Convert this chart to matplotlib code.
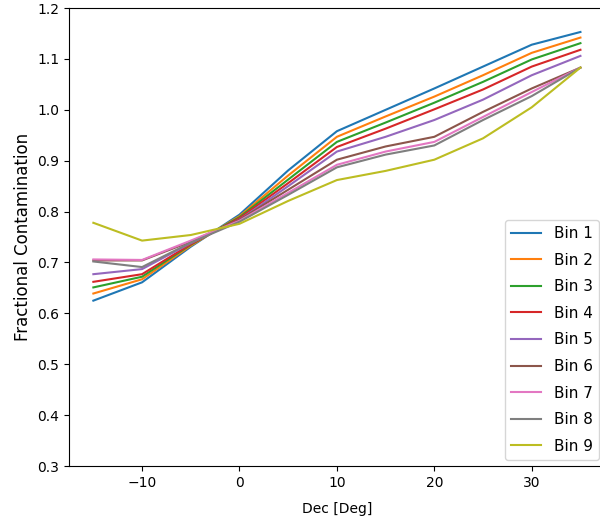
import matplotlib
matplotlib.use('Agg')
import matplotlib.pyplot as plt

dec = [-15, -10, -5, 0, 5, 10, 15, 20, 25, 30, 35]

bins = {
    'Bin 1': [0.625, 0.661, 0.731, 0.794, 0.881, 0.958, 1.000, 1.042, 1.085, 1.128, 1.153],
    'Bin 2': [0.639, 0.667, 0.733, 0.791, 0.871, 0.947, 0.987, 1.026, 1.068, 1.112, 1.142],
    'Bin 3': [0.651, 0.672, 0.735, 0.789, 0.863, 0.937, 0.975, 1.014, 1.055, 1.099, 1.131],
    'Bin 4': [0.662, 0.677, 0.736, 0.787, 0.856, 0.927, 0.963, 1.001, 1.040, 1.085, 1.118],
    'Bin 5': [0.677, 0.687, 0.738, 0.784, 0.850, 0.918, 0.947, 0.980, 1.020, 1.068, 1.106],
    'Bin 6': [0.704, 0.704, 0.741, 0.784, 0.843, 0.902, 0.928, 0.947, 0.996, 1.042, 1.083],
    'Bin 7': [0.706, 0.705, 0.743, 0.782, 0.837, 0.892, 0.918, 0.937, 0.986, 1.035, 1.083],
    'Bin 8': [0.702, 0.691, 0.739, 0.780, 0.833, 0.887, 0.912, 0.930, 0.980, 1.027, 1.083],
    'Bin 9': [0.778, 0.743, 0.754, 0.776, 0.821, 0.862, 0.880, 0.902, 0.944, 1.005, 1.083],
}

fig = plt.figure(figsize=(6, 5.27), dpi=100)
# axes run past the right edge, as in the cropped original
ax = fig.add_axes([0.115, 0.1157, 0.893, 0.869])
for name, vals in bins.items():
    ax.plot(dec, vals, label=name)
ax.set_ylim(0.3, 1.2)
ax.set_xlabel('Dec [Deg]', labelpad=9)
ax.set_ylabel('Fractional Contamination', fontsize=12)
ax.legend(loc='lower right', fontsize=11, labelspacing=0.76, borderaxespad=0.4)
fig.savefig('out.png', dpi=100)
